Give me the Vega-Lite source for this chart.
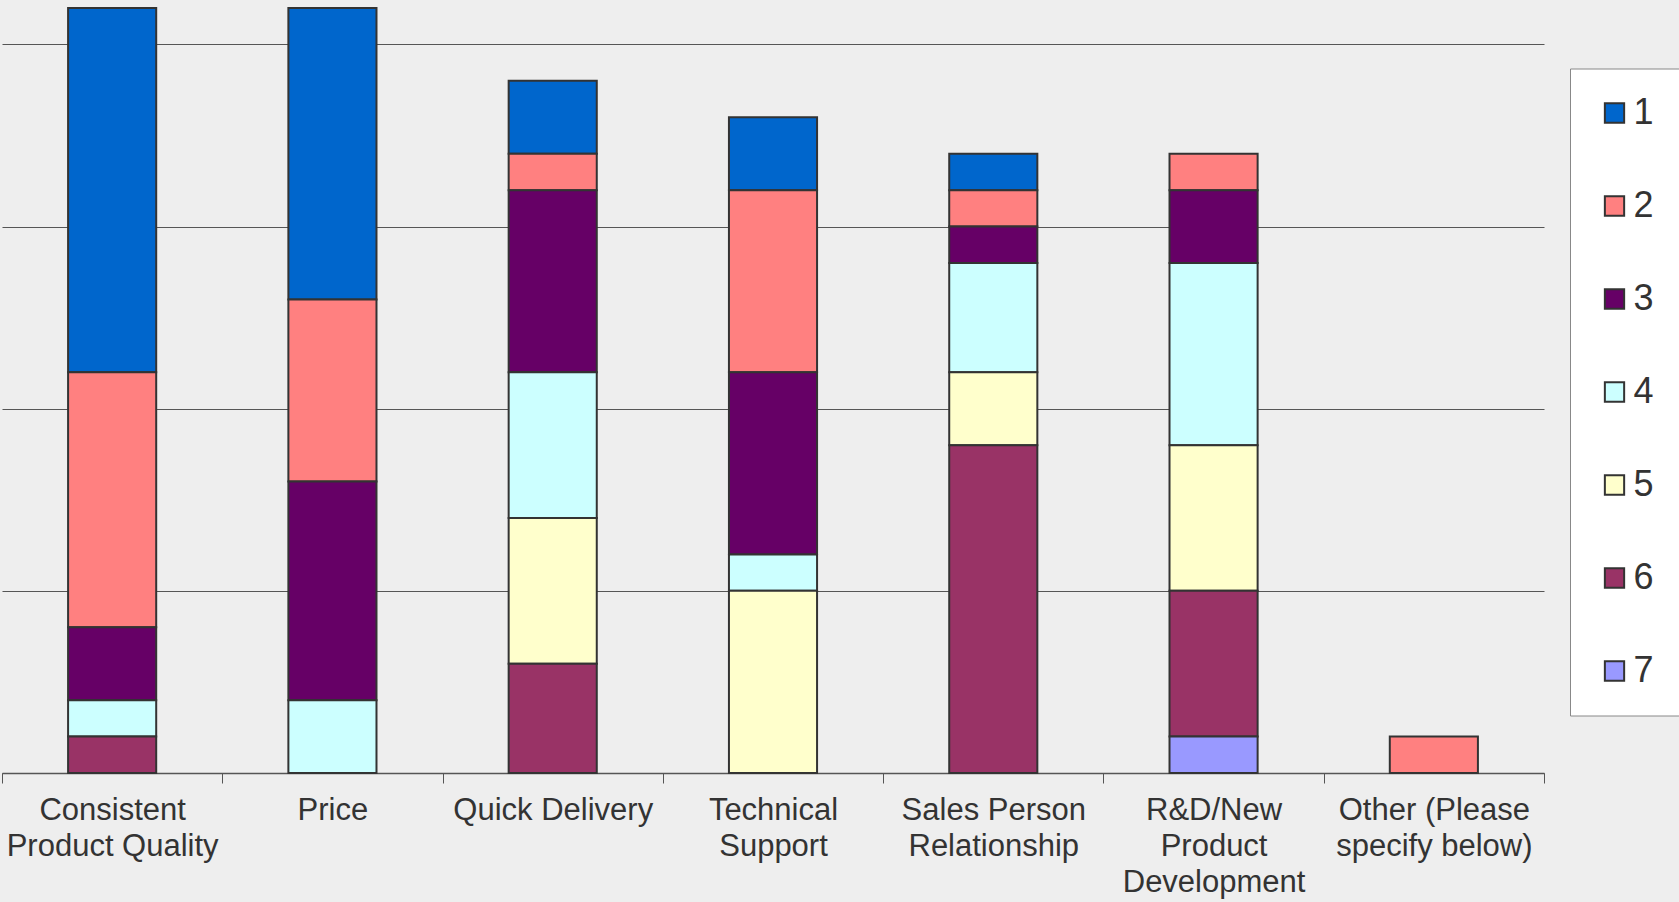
{
  "$schema": "https://vega.github.io/schema/vega-lite/v6.json",
  "autosize": "none",
  "padding": {"left": 2, "top": 8, "right": 135, "bottom": 129},
  "width": 1542,
  "height": 765,
  "background": "#eeeeee",
  "config": {
    "view": {"stroke": null},
    "font": "Liberation Sans"
  },
  "data": {
    "values": [
      {"category": "Consistent|Product Quality", "rank": "1", "count": 10},
      {"category": "Consistent|Product Quality", "rank": "2", "count": 7},
      {"category": "Consistent|Product Quality", "rank": "3", "count": 2},
      {"category": "Consistent|Product Quality", "rank": "4", "count": 1},
      {"category": "Consistent|Product Quality", "rank": "6", "count": 1},
      {"category": "Price", "rank": "1", "count": 8},
      {"category": "Price", "rank": "2", "count": 5},
      {"category": "Price", "rank": "3", "count": 6},
      {"category": "Price", "rank": "4", "count": 2},
      {"category": "Quick Delivery", "rank": "1", "count": 2},
      {"category": "Quick Delivery", "rank": "2", "count": 1},
      {"category": "Quick Delivery", "rank": "3", "count": 5},
      {"category": "Quick Delivery", "rank": "4", "count": 4},
      {"category": "Quick Delivery", "rank": "5", "count": 4},
      {"category": "Quick Delivery", "rank": "6", "count": 3},
      {"category": "Technical|Support", "rank": "1", "count": 2},
      {"category": "Technical|Support", "rank": "2", "count": 5},
      {"category": "Technical|Support", "rank": "3", "count": 5},
      {"category": "Technical|Support", "rank": "4", "count": 1},
      {"category": "Technical|Support", "rank": "5", "count": 5},
      {"category": "Sales Person|Relationship", "rank": "1", "count": 1},
      {"category": "Sales Person|Relationship", "rank": "2", "count": 1},
      {"category": "Sales Person|Relationship", "rank": "3", "count": 1},
      {"category": "Sales Person|Relationship", "rank": "4", "count": 3},
      {"category": "Sales Person|Relationship", "rank": "5", "count": 2},
      {"category": "Sales Person|Relationship", "rank": "6", "count": 9},
      {"category": "R&D/New|Product|Development", "rank": "2", "count": 1},
      {"category": "R&D/New|Product|Development", "rank": "3", "count": 2},
      {"category": "R&D/New|Product|Development", "rank": "4", "count": 5},
      {"category": "R&D/New|Product|Development", "rank": "5", "count": 4},
      {"category": "R&D/New|Product|Development", "rank": "6", "count": 4},
      {"category": "R&D/New|Product|Development", "rank": "7", "count": 1},
      {"category": "Other (Please|specify below)", "rank": "2", "count": 1}
    ]
  },
  "mark": {"type": "bar", "stroke": "#333333", "strokeWidth": 2, "width": {"band": 0.4}},
  "encoding": {
    "x": {
      "field": "category",
      "type": "nominal",
      "sort": null,
      "scale": {"paddingInner": 0, "paddingOuter": 0},
      "axis": {
        "title": null,
        "labelAngle": 0,
        "labelExpr": "datum.value ? split(datum.value, '|') : ''",
        "labelFontSize": 31,
        "labelColor": "#333333",
        "labelLineHeight": 36,
        "labelBaseline": "top",
        "labelPadding": 12,
        "labelLimit": 400,
        "labelOverlap": false,
        "tickBand": "extent",
        "tickSize": 10,
        "tickColor": "#555555",
        "domainColor": "#555555",
        "domainWidth": 1.5,
        "grid": false
      }
    },
    "y": {
      "field": "count",
      "type": "quantitative",
      "stack": "zero",
      "scale": {"domain": [0, 21], "nice": false},
      "axis": {
        "title": null,
        "labels": false,
        "ticks": false,
        "domain": false,
        "values": [0, 5, 10, 15, 20],
        "grid": true,
        "gridColor": "#555555",
        "gridWidth": 1.2
      }
    },
    "color": {
      "field": "rank",
      "type": "nominal",
      "scale": {
        "domain": ["1", "2", "3", "4", "5", "6", "7"],
        "range": ["#0066CC", "#FF8080", "#660066", "#CCFFFF", "#FFFFCC", "#993366", "#9999FF"]
      },
      "legend": {
        "title": null,
        "orient": "none",
        "legendX": 1568,
        "legendY": 60.5,
        "symbolType": "square",
        "symbolSize": 372,
        "symbolStrokeColor": "#333333",
        "symbolStrokeWidth": 2,
        "labelFontSize": 36,
        "labelColor": "#333333",
        "labelOffset": 1,
        "rowPadding": 57,
        "padding": 26.5,
        "fillColor": "#ffffff",
        "strokeColor": "#888888"
      }
    },
    "order": {"field": "rank", "sort": "descending"}
  }
}
